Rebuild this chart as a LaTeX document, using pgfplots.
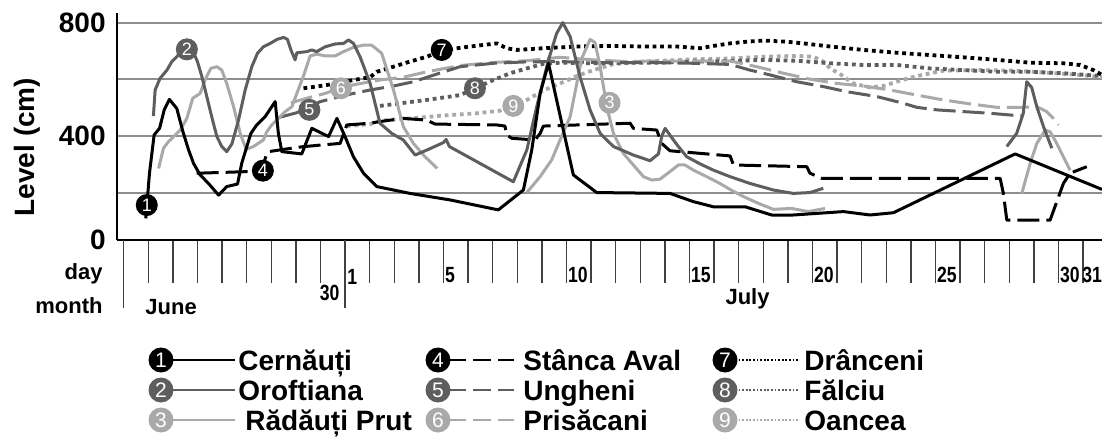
\documentclass[border=0pt]{standalone}
\usepackage{fontspec}
\setmainfont{Liberation Sans}
\newfontfamily\condfont[FakeStretch=0.8]{Liberation Sans}
\usepackage{pgfplots}
\pgfplotsset{compat=1.18}
\definecolor{dg}{HTML}{5E5E5E}
\definecolor{lg}{HTML}{A9A9A9}
\definecolor{gridc}{HTML}{8E8E8E}
\tikzset{
  num/.style={circle, fill=#1, inner sep=0pt, minimum size=11pt, text=white, font=\fontsize{9}{9}\selectfont},
  lnum/.style={circle, fill=#1, inner sep=0pt, minimum size=12.5pt, text=white, font=\fontsize{10.5}{10.5}\selectfont},
  daylab/.style={anchor=base west, inner sep=0pt, font=\condfont\fontsize{11}{12}\selectfont\bfseries},
  axlab/.style={inner sep=0pt, font=\fontsize{11}{12}\selectfont\bfseries},
  legtxt/.style={anchor=base west, inner sep=0pt, font=\fontsize{14}{16}\selectfont\bfseries},
  solidS/.style={line width=1.5pt},
  dashS/.style={line width=1.5pt, dash pattern=on 11pt off 3.5pt},
  dotS/.style={line width=1.9pt, dash pattern=on 1.9pt off 1.9pt},
}
\begin{document}
\begin{tikzpicture}
\begin{axis}[
  at={(58.5pt,100pt)}, anchor=south west,
  scale only axis, width=492.5pt, height=113.5pt,
  xmin=-8.27, xmax=31.77, ymin=35, ymax=834,
  axis lines=left, axis line style={-, line width=1.2pt, black},
  clip=false,
  xtick={-8,...,31}, xticklabels={},
  tick align=outside, major tick length=21.5pt, minor tick length=0pt,
  xtick style={black!75, line width=0.7pt},
  ytick={35,400,800}, yticklabels={0,400,800},
  minor ytick={200,600},
  ymajorgrids, yminorgrids,
  major grid style={gridc, line width=1pt},
  minor grid style={gridc, line width=1pt},
  ytick style={draw=none},
  yticklabel style={font=\fontsize{14}{15}\selectfont\bfseries, anchor=east, inner sep=0pt, xshift=16pt},
  unbounded coords=jump,
  every axis plot/.append style={line join=round},
]
% 9 Oancea
\addplot[lg, dotS] coordinates {(1.07,436) (2.02,443) (2.42,455) (3.64,463) (4.99,473) (6.35,481) (7.30,490) (7.84,507) (8.39,528) (9.06,561) (9.74,586) (10.42,612) (11.10,633) (11.91,654) (13.13,663) (15.16,671) (16.65,674) (18.01,680) (19.36,683) (20.04,680) (20.44,663) (20.72,639) (21.12,619) (21.66,586) (22.34,572) (22.88,577) (23.56,596) (24.24,612) (25.32,631) (26.81,633) (28.17,631) (29.52,624) (30.88,616) (31.77,608)};
% 8 Falciu
\addplot[dg, dotS] coordinates {(2.42,507) (4.32,528) (5.68,545) (6.28,569) (7.03,598) (7.71,622) (8.39,639) (9.06,655) (9.74,659) (11.10,657) (12.45,659) (13.80,659) (15.16,663) (16.65,665) (18.01,669) (19.36,666) (20.72,657) (22.07,651) (23.43,651) (24.78,639) (26.13,633) (27.49,627) (28.85,627) (30.20,622) (31.77,612)};
% 7 Dranceni
\addplot[black, dotS] coordinates {(-0.69,569) (-0.01,577) (0.67,586) (1.34,598) (2.02,608) (2.29,627) (2.97,645) (3.64,663) (4.32,680) (4.93,701) (5.40,708) (6.08,716) (7.17,727) (7.57,710) (7.98,704) (9.06,710) (10.42,716) (11.77,718) (13.13,716) (14.48,716) (15.43,710) (15.97,718) (16.65,727) (17.33,733) (18.01,737) (18.95,733) (19.63,727) (20.72,716) (22.07,704) (23.43,694) (24.78,686) (26.13,678) (27.49,669) (28.85,659) (30.20,657) (30.88,651) (31.42,633) (31.77,616)};
% 6 Prisacani
\addplot[lg, dashS] coordinates {(-1.20,518) (-0.55,534) (0.19,551) (0.80,569) (1.34,581) (2.02,592) (2.42,598) (3.37,608) (4.32,627) (5.68,649) (7.03,660) (8.39,666) (9.74,678) (11.10,669) (12.45,663) (13.80,665) (15.16,665) (16.65,665) (17.73,645) (18.82,622) (19.90,601) (20.99,586) (22.07,577) (23.15,563) (24.24,545) (25.32,528) (26.41,514) (27.49,502) (28.57,502) (29.12,504) (29.52,487) (29.79,463) (30.00,440)};
% 5 Ungheni
\addplot[dg, dashS] coordinates {(-1.66,467) (-0.96,483) (-0.01,522) (0.67,537) (1.34,551) (2.02,563) (2.42,569) (2.97,577) (3.78,592) (4.73,619) (5.68,645) (7.03,657) (8.39,662) (9.74,663) (11.10,660) (12.45,659) (13.80,659) (15.16,657) (16.65,653) (17.46,633) (18.28,616) (19.36,592) (20.44,575) (21.39,557) (22.61,540) (23.70,516) (24.24,502) (25.05,493) (26.13,487) (27.22,481) (28.57,471)};
% 4 Stanca Aval
\addplot[black, dashS] coordinates {(-5.03,270) (-2.86,276) (-2.40,278) (-2.18,340) (-2.11,346) (-1.50,354) (-0.76,363) (-0.01,369) (0.80,375) (1.07,440) (2.02,446) (2.42,452) (3.37,463) (4.32,457) (4.66,443) (7.17,440) (7.50,436) (7.57,405) (7.78,393) (8.72,387) (8.93,410) (9.06,436) (12.59,446) (12.72,428) (13.67,422) (13.87,375) (14.21,349) (16.65,331) (16.79,299) (19.77,293) (19.90,270) (20.38,252) (27.63,252) (27.76,199) (27.90,105) (29.66,105) (30.20,234) (30.47,270) (31.15,293)};
% 3 Radauti Prut
\addplot[lg, solidS] coordinates {(-6.58,287) (-6.38,358) (-6.18,381) (-5.97,399) (-5.70,422) (-5.43,463) (-5.19,534) (-4.89,551) (-4.69,598) (-4.46,639) (-4.21,645) (-4.01,633) (-3.81,586) (-3.53,504) (-3.26,410) (-3.02,354) (-2.72,364) (-2.48,378) (-2.32,387) (-2.18,416) (-1.98,440) (-1.71,463) (-1.43,487) (-1.16,504) (-0.96,551) (-0.69,612) (-0.42,683) (-0.15,689) (0.19,683) (0.60,683) (0.94,698) (1.34,713) (1.75,721) (2.08,721) (2.49,692) (2.97,563) (3.37,434) (3.78,375) (4.25,328) (4.75,287) (6,nan) (8.39,202) (8.93,258) (9.40,317) (9.74,387) (10.15,469) (10.42,586) (10.62,674) (10.96,741) (11.16,730) (11.37,645) (11.64,504) (11.91,410) (12.31,340) (12.72,299) (13.13,258) (13.47,246) (13.80,249) (14.21,276) (14.55,299) (14.82,299) (15.16,281) (15.70,258) (16.24,234) (16.65,213) (17.19,188) (17.80,164) (18.41,143) (19.16,146) (19.83,135) (20.51,146) (24,nan) (28.51,199) (28.85,305) (29.12,375) (29.46,422) (29.66,416) (29.93,375) (30.20,328) (30.47,281)};
% 2 Oroftiana
\addplot[dg, solidS] coordinates {(-6.79,471) (-6.72,563) (-6.52,604) (-6.24,633) (-6.04,663) (-5.84,680) (-5.59,706) (-5.36,710) (-5.19,701) (-5.00,663) (-4.82,610) (-4.62,540) (-4.42,469) (-4.21,399) (-4.01,364) (-3.81,346) (-3.60,373) (-3.33,457) (-3.06,563) (-2.79,645) (-2.56,692) (-2.32,715) (-2.04,727) (-1.77,741) (-1.50,748) (-1.34,741) (-1.20,704) (-1.03,669) (-0.96,694) (-0.55,698) (-0.35,704) (-0.15,698) (0.19,715) (0.60,725) (0.94,727) (1.14,739) (1.34,727) (1.61,680) (2.02,586) (2.42,446) (2.90,410) (3.37,387) (3.85,334) (4.39,354) (5.00,378) (5.11,389) (5.24,364) (7.84,240) (8.39,352) (8.79,504) (9.27,669) (9.60,762) (9.85,800) (10.15,751) (10.55,610) (10.96,493) (11.37,410) (11.91,364) (12.72,334) (13.40,314) (13.74,338) (13.87,399) (14.01,428) (14.35,387) (14.55,364) (14.89,328) (15.43,303) (15.97,281) (16.65,258) (17.46,234) (18.41,211) (19.22,199) (19.90,202) (20.44,217) (24,nan) (27.90,364) (28.30,410) (28.57,481) (28.71,592) (28.91,572) (29.12,504) (29.39,434) (29.73,358)};
% 1 Cernauti
\addplot[black, solidS] coordinates {(-7.10,111) (-6.95,270) (-6.76,405) (-6.54,428) (-6.35,493) (-6.14,530) (-5.84,498) (-5.59,416) (-5.36,352) (-5.16,305) (-4.89,264) (-4.55,234) (-4.14,193) (-3.81,223) (-3.37,232) (-3.20,305) (-2.83,410) (-2.59,440) (-2.25,469) (-1.84,522) (-1.71,410) (-1.57,346) (-0.76,338) (-0.35,428) (0.33,399) (0.67,463) (1.00,399) (1.34,328) (1.75,270) (2.29,223) (3.64,199) (5.27,176) (7.23,141) (8.25,211) (8.59,352) (8.93,551) (9.27,657) (9.60,528) (10.28,264) (11.23,202) (14.21,199) (15.16,170) (15.97,152) (17.26,152) (18.34,123) (19.22,123) (21.26,135) (22.34,123) (23.29,131) (28.24,338) (31.77,213)};
% numbered labels on the lines
\node[num=black] at (axis cs:-7.06,158) {1};
\node[num=dg] at (axis cs:-5.43,706) {2};
\node[num=lg] at (axis cs:11.75,518) {3};
\node[num=black] at (axis cs:-2.34,279) {4};
\node[num=dg] at (axis cs:-0.45,493) {5};
\node[num=lg] at (axis cs:0.83,569) {6};
\node[num=black] at (axis cs:4.93,704) {7};
\node[num=dg] at (axis cs:6.28,569) {8};
\node[num=lg] at (axis cs:7.84,507) {9};
% long ticks (month boundaries)
\draw[black!75, line width=0.7pt] (axis cs:-8,35) -- ++(0pt,-34pt);
\draw[black!75, line width=0.7pt] (axis cs:1,35) -- ++(0pt,-34pt);
% day labels
\node[daylab, yshift=-30.4pt, xshift=-0.5pt] at (axis cs:0,35) {30};
\node[daylab, yshift=-22.4pt, xshift=1pt] at (axis cs:1,35) {1};
\pgfplotsinvokeforeach{5,10,15,20,25,30}{
  \node[daylab, yshift=-21.4pt, xshift=0.6pt] at (axis cs:#1,35) {#1};
}
\node[daylab, yshift=-21.4pt, xshift=-0.6pt] at (axis cs:31,35) {31};
\node[axlab, anchor=base east, yshift=-19.9pt] at (axis cs:-8.84,35) {day};
\node[axlab, anchor=base east, yshift=-36.9pt] at (axis cs:-8.84,35) {month};
\node[axlab, anchor=base west, yshift=-37.4pt] at (axis cs:-7.13,35) {June};
\node[axlab, anchor=base west, yshift=-32.4pt] at (axis cs:16.45,35) {July};
\end{axis}
% y label
\node[rotate=90, inner sep=0pt, font=\fontsize{14}{16}\selectfont\bfseries] at (13.5pt,146.5pt) {Level (cm)};
% legend
\foreach \y/\c/\n/\t/\tx in {40/black/1/Cernăuți/119, 25/dg/2/Oroftiana/119, 10/lg/3/Rădăuți Prut/122.5} {
  \draw[\c, line width=1pt] (85pt,\y pt) -- (117.5pt,\y pt);
  \node[lnum=\c] at (80.5pt,\y pt) {\n};
  \node[legtxt] at (\tx pt,\y pt-5pt) {\t};
}
\foreach \y/\c/\n/\t in {40/black/4/Stânca Aval, 25/dg/5/Ungheni, 10/lg/6/Prisăcani} {
  \draw[\c, line width=1pt, dash pattern=on 9pt off 3.5pt] (224pt,\y pt) -- (257pt,\y pt);
  \node[lnum=\c] at (219pt,\y pt) {\n};
  \node[legtxt] at (261.5pt,\y pt-5pt) {\t};
}
\foreach \y/\c/\n/\t in {40/black/7/Drânceni, 25/dg/8/Fălciu, 10/lg/9/Oancea} {
  \draw[\c, line width=0.9pt, dash pattern=on 0.9pt off 0.9pt] (367.5pt,\y pt) -- (399pt,\y pt);
  \node[lnum=\c] at (362.5pt,\y pt) {\n};
  \node[legtxt] at (402pt,\y pt-5pt) {\t};
}
\pgfresetboundingbox
\path[use as bounding box] (0pt,0pt) rectangle (551pt,220pt);
\end{tikzpicture}
\end{document}
